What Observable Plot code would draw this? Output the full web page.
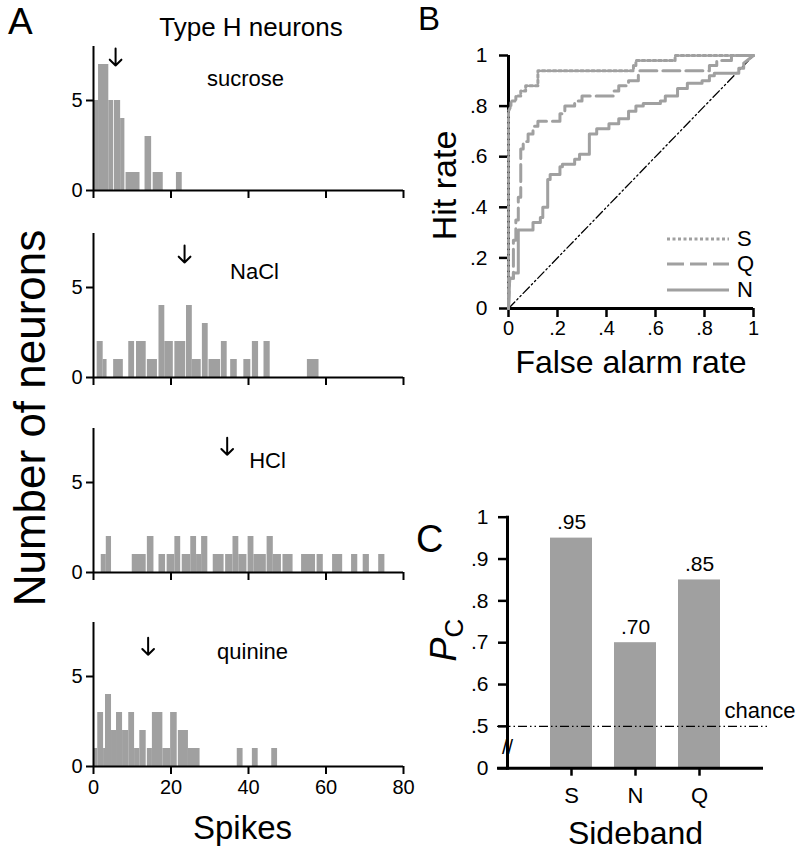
<!DOCTYPE html>
<html><head><meta charset="utf-8">
<script src="https://cdn.jsdelivr.net/npm/d3@7"></script>
<script src="https://cdn.jsdelivr.net/npm/@observablehq/plot@0.6"></script>
<style>
body{margin:0;background:#fff;font-family:"Liberation Sans",Arial,Helvetica,sans-serif;color:#000;}
#root{position:relative;width:796px;height:853px;overflow:hidden;background:#fff;}
.abs{position:absolute;line-height:1;white-space:nowrap;}
</style></head><body><div id="root"></div>
<script>
// ---------- DATA ----------
// Panel A: histogram bins [start spikes, end spikes, number of neurons]
const stimuli = ["sucrose", "NaCl", "HCl", "quinine"];
const sucroseBins = [[0.1,1.3,5],[1.3,3.95,7],[3.95,5.2,5],[5.4,7.0,5],[7.0,8.1,4],[8.4,12.0,1],[13.3,15.0,3],[15.4,18.0,1],[21.4,22.9,1]];
const naclBins = [[0.95,2.5,2],[2.5,3.5,1],[5.2,7.7,1],[9.1,10.6,2],[11.1,13.6,2],[13.9,16.5,1],[16.9,18.4,4],[18.4,20.6,2],[21.0,23.8,2],[24.0,25.5,4],[25.5,27.8,1],[28.1,29.6,3],[29.8,32.8,1],[33.0,34.5,2],[35.4,37.1,1],[38.8,40.6,1],[41.0,42.6,2],[44.0,45.6,2],[55.2,58.2,1]];
const hclBins = [[2.0,3.3,1],[3.3,4.65,2],[10.0,13.6,1],[13.9,15.6,2],[16.9,18.6,1],[19.0,21.0,1],[21.0,22.5,2],[22.9,25.1,1],[25.1,26.6,2],[26.6,27.9,1],[27.9,29.5,2],[30.9,33.7,1],[34.1,36.0,1],[36.0,37.5,2],[37.5,39.6,1],[39.9,41.4,2],[41.4,44.6,1],[44.8,46.4,2],[46.4,48.5,1],[48.9,51.5,1],[53.7,57.3,1],[57.7,59.3,1],[61.7,64.3,1],[66.6,68.2,1],[69.6,71.2,1],[73.6,75.2,1]];
const quinineBins = [[0,1.1,1],[1.1,2.6,3],[2.6,3.1,1],[3.1,4.65,4],[4.65,5.94,2],[5.94,7.5,3],[7.5,9.1,2],[9.1,10.6,3],[10.6,11.95,1],[11.95,13.6,2],[13.9,15.2,1],[15.2,17.9,3],[17.9,19.9,1],[19.9,21.6,3],[21.9,24.5,2],[24.5,27.5,1],[37.1,38.6,1],[41.0,42.5,1],[46.0,47.5,1]];
const meanSpikes = [5.7, 23.5, 34.5, 14.1];
const spikeTicks = [0, 20, 40, 60, 80];
const countTicks = [0, 5];

// Panel B: ROC curves [false alarm rate, hit rate]
const rocS = [[0,0],[0,0.78],[0.01,0.80],[0.01,0.82],[0.03,0.82],[0.03,0.84],[0.05,0.84],[0.05,0.86],[0.07,0.86],[0.07,0.88],[0.12,0.88],[0.12,0.94],[0.51,0.94],[0.51,0.96],[0.52,0.96],[0.52,0.98],[0.68,0.98],[0.68,1],[1,1]];
const rocQ = [[0,0],[0.005,0.12],[0.02,0.12],[0.02,0.27],[0.03,0.27],[0.03,0.35],[0.04,0.35],[0.04,0.44],[0.05,0.44],[0.05,0.63],[0.06,0.63],[0.06,0.66],[0.08,0.66],[0.08,0.69],[0.10,0.69],[0.10,0.72],[0.12,0.72],[0.12,0.74],[0.21,0.74],[0.21,0.77],[0.23,0.77],[0.23,0.80],[0.27,0.80],[0.27,0.82],[0.30,0.82],[0.30,0.84],[0.43,0.84],[0.43,0.86],[0.45,0.86],[0.45,0.88],[0.49,0.88],[0.49,0.90],[0.53,0.90],[0.53,0.94],[0.82,0.94],[0.82,0.96],[0.85,0.96],[0.85,0.98],[0.91,0.98],[0.91,1],[1,1]];
const rocN = [[0,0],[0.005,0.12],[0.02,0.12],[0.02,0.14],[0.04,0.14],[0.04,0.31],[0.10,0.31],[0.10,0.34],[0.13,0.34],[0.13,0.36],[0.14,0.36],[0.14,0.40],[0.16,0.40],[0.16,0.51],[0.17,0.51],[0.17,0.53],[0.21,0.53],[0.21,0.56],[0.22,0.56],[0.22,0.57],[0.27,0.57],[0.27,0.59],[0.29,0.59],[0.29,0.61],[0.33,0.61],[0.33,0.69],[0.36,0.69],[0.36,0.71],[0.41,0.71],[0.41,0.73],[0.45,0.73],[0.45,0.75],[0.49,0.75],[0.49,0.78],[0.52,0.78],[0.52,0.80],[0.55,0.80],[0.55,0.81],[0.62,0.81],[0.62,0.82],[0.64,0.82],[0.64,0.84],[0.69,0.84],[0.69,0.87],[0.73,0.87],[0.73,0.89],[0.79,0.89],[0.79,0.90],[0.82,0.90],[0.82,0.92],[0.84,0.92],[0.84,0.93],[0.94,0.93],[0.94,0.95],[0.96,0.95],[0.96,0.97],[1,1]];
const rocChance = [[0,0],[1,1]];
const rateTicks = [0, 0.2, 0.4, 0.6, 0.8, 1];

// Panel C: proportion correct by sideband
const sidebands = ["S", "N", "Q"];
const pcValues = [0.95, 0.70, 0.85];
const pcTicks = [0, 0.5, 0.6, 0.7, 0.8, 0.9, 1];
const chanceLevel = 0.5;

// ---------- HELPERS ----------
const F = '"Liberation Sans", Arial, Helvetica, sans-serif';
const GRAY = "#a0a0a0";
const root = document.getElementById("root");
function place(node, left, top) {
  node.style.position = "absolute";
  node.style.left = left + "px";
  node.style.top = top + "px";
  root.appendChild(node);
  return node;
}
function label(text, left, top, size, extra) {
  const d = document.createElement("div");
  d.className = "abs";
  d.textContent = text;
  d.style.fontSize = size + "px";
  d.style.fontFamily = F;
  if (extra) Object.assign(d.style, extra);
  return place(d, left, top);
}
const fmtRate = d => d === 0 ? "0" : d === 1 ? "1" : d3.format(".1f")(d).replace(/^0/, "");

// ---------- PANEL A ----------
const allBins = [sucroseBins, naclBins, hclBins, quinineBins];
const baselines = [190, 377, 571.7, 765.7];
const labelOffsets = [[-3, 39], [6, 45], [19, 39], [4, 36.6]];
const arrowOffsets = [2, 12, 9.3, 15.3];
allBins.forEach((bins, i) => {
  const last = i === 3;
  const mt = 10, plotH = 144, mb = last ? 87 : 26;
  const data = bins.map(([x1, x2, n]) => ({x1, x2, n}));
  const p = Plot.plot({
    width: 410, height: mt + plotH + mb,
    marginLeft: 93, marginRight: 7, marginTop: mt, marginBottom: mb,
    style: {fontFamily: F, background: "transparent", overflow: "visible"},
    x: {domain: [0, 80]},
    y: {domain: [0, 8]},
    marks: [
      Plot.rectY(data, {x1: "x1", x2: "x2", y1: 0, y2: "n", fill: GRAY}),
      Plot.ruleX([0], {stroke: "black", strokeWidth: 2}),
      Plot.ruleY([0], {stroke: "black", strokeWidth: 2}),
      Plot.axisY({ticks: countTicks, tickSize: 7, tickPadding: 4, fontSize: 20, strokeWidth: 2, label: null}),
      Plot.axisX({ticks: spikeTicks, tickSize: 8, tickPadding: 5, fontSize: 20, strokeWidth: 2, label: null,
                  tickFormat: last ? d => String(d) : () => ""}),
      Plot.vector([meanSpikes[i]], {x: d => d, frameAnchor: "top", anchor: "start", rotate: 180, length: 17, r: 6,
                  dy: arrowOffsets[i], stroke: "black", strokeWidth: 2}),
      Plot.text([stimuli[i]], {frameAnchor: "top", lineAnchor: "bottom", dx: labelOffsets[i][0], dy: labelOffsets[i][1], fontSize: 22}),
      ...(last ? [Plot.text(["Spikes"], {frameAnchor: "bottom", lineAnchor: "bottom", dx: -6, dy: 72, fontSize: 33})] : [])
    ]
  });
  place(p, 0, baselines[i] - plotH - mt);
});
label("A", 8, 3, 37);
label("Type H neurons", 251, 27, 26, {transform: "translate(-50%,-50%)"});
label("Number of neurons", 30, 418, 44, {transform: "translate(-50%,-50%) rotate(-90deg)"});

// ---------- PANEL B ----------
const pB = Plot.plot({
  width: 396, height: 380,
  marginLeft: 108, marginRight: 43, marginTop: 55, marginBottom: 72,
  style: {fontFamily: F, background: "transparent", overflow: "visible"},
  x: {domain: [0, 1]},
  y: {domain: [0, 1]},
  marks: [
    Plot.line(rocChance, {stroke: "black", strokeWidth: 1.3, strokeDasharray: "9,3,1.5,3,1.5,3"}),
    Plot.ruleX([0], {stroke: "black", strokeWidth: 3}),
    Plot.ruleY([0], {stroke: "black", strokeWidth: 3}),
    Plot.axisY({ticks: rateTicks, tickSize: 9, tickPadding: 12, fontSize: 21, strokeWidth: 2.5, tickFormat: fmtRate, label: null}),
    Plot.axisX({ticks: rateTicks, tickSize: 9, tickPadding: 3, fontSize: 20, strokeWidth: 2.5, tickFormat: fmtRate, label: null}),
    Plot.line(rocN, {stroke: GRAY, strokeWidth: 3}),
    Plot.line(rocQ, {stroke: GRAY, strokeWidth: 3, strokeDasharray: "17,6"}),
    Plot.line(rocS, {stroke: GRAY, strokeWidth: 3, strokeDasharray: "3,2.5"}),
    Plot.text(["Hit rate"], {frameAnchor: "left", rotate: -90, lineAnchor: "bottom", textAnchor: "middle", dx: -53, dy: 3.5, fontSize: 34}),
    Plot.text(["False alarm rate"], {frameAnchor: "bottom", lineAnchor: "bottom", dy: 64, fontSize: 32})
  ]
});
place(pB, 400, 0);
label("B", 418, 2, 33);
// legend
const legendItems = [["S", "3,2.5", 239], ["Q", "17,6", 264], ["N", null, 290]];
legendItems.forEach(([key, dash, y]) => {
  const ns = "http://www.w3.org/2000/svg";
  const s = document.createElementNS(ns, "svg");
  s.setAttribute("width", 62); s.setAttribute("height", 6);
  const l = document.createElementNS(ns, "line");
  l.setAttribute("x1", 0); l.setAttribute("x2", 62); l.setAttribute("y1", 3); l.setAttribute("y2", 3);
  l.setAttribute("stroke", GRAY); l.setAttribute("stroke-width", 3);
  if (dash) l.setAttribute("stroke-dasharray", dash);
  s.appendChild(l);
  place(s, 667, y - 3);
  label(key, 737, y - 10, 22, {lineHeight: "20px", height: "20px"});
});

// ---------- PANEL C ----------
const pcData = sidebands.map((s, i) => ({band: s, pc: pcValues[i]}));
const pC = Plot.plot({
  width: 396, height: 373,
  marginLeft: 107, marginRight: 33, marginTop: 36.7, marginBottom: 85.3,
  style: {fontFamily: F, background: "transparent", overflow: "visible"},
  x: {type: "band", domain: sidebands, paddingInner: 0.34, paddingOuter: 0.67},
  y: {domain: [0.4, 1], clamp: true},
  marks: [
    Plot.barY(pcData, {x: "band", y1: 0, y2: "pc", fill: GRAY}),
    Plot.ruleY([chanceLevel], {stroke: "black", strokeWidth: 1.3, strokeDasharray: "9,3,1.5,3,1.5,3", insetLeft: -10, insetRight: -7}),
    Plot.text(["chance"], {y: chanceLevel, frameAnchor: "right", textAnchor: "end", lineAnchor: "bottom", dx: 32, dy: -8, fontSize: 22}),
    Plot.frame({anchor: "left", stroke: "black", strokeWidth: 3}),
    Plot.ruleY([0], {stroke: "black", strokeWidth: 3, insetLeft: -10}),
    Plot.axisY({ticks: pcTicks, tickSize: 9, tickPadding: 10, fontSize: 21, strokeWidth: 2.5,
                tickFormat: d => d === 0 ? "0" : d === 1 ? "1" : d3.format(".1f")(d).replace(/^0/, ""), label: null}),
    Plot.axisX({tickSize: 8, tickPadding: 11, fontSize: 22, strokeWidth: 2.5, label: null}),
    Plot.text(pcData, {x: "band", y: "pc", text: d => d3.format(".2f")(d.pc).replace(/^0/, ""), dy: -9, lineAnchor: "bottom", fontSize: 21}),
    Plot.text(["//"], {frameAnchor: "bottom-left", textAnchor: "middle", lineAnchor: "middle", dy: -21, fontSize: 20, fill: "black"}),
    Plot.text(["P"], {frameAnchor: "left", rotate: -90, lineAnchor: "bottom", textAnchor: "start", dx: -52, dy: 18.8, fontSize: 36, fontStyle: "italic"}),
    Plot.text(["C"], {frameAnchor: "left", rotate: -90, lineAnchor: "bottom", textAnchor: "start", dx: -45, dy: -5.2, fontSize: 26}),
    Plot.text(["Sideband"], {frameAnchor: "bottom", lineAnchor: "bottom", dy: 75.3, fontSize: 32})
  ]
});
place(pC, 400, 480);
label("C", 416, 520, 38);
</script></body></html>
